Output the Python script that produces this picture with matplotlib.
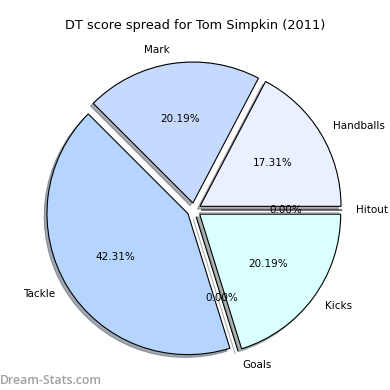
import matplotlib.pyplot as plt

labels = ['Handballs', 'Mark', 'Tackle', 'Goals', 'Kicks', 'Hitout']
points = [18, 21, 44, 0, 21, 0]
colors = ['#eaf0ff', '#c6d9ff', '#b5d5ff', '#c4ffff', '#d9ffff', '#e0e8ff']
explode = [0.05] * len(labels)


def save_pie():
    fig = plt.figure(figsize=(3.9, 3.9), dpi=100)
    ax = fig.add_axes([0, 0, 1, 1])

    ax.pie(points, labels=labels, colors=colors, explode=explode,
           autopct='%1.2f%%', startangle=0,
           shadow=dict(ox=-0.014, oy=-0.014, shade=0.6),
           wedgeprops=dict(edgecolor='black', linewidth=0.8),
           textprops=dict(fontsize=7.5))

    # 1 data unit ~ 141 px, pie centre at (194, 210) px
    ax.set_aspect('equal')
    ax.set_xlim(-194 / 141, (390 - 194) / 141)
    ax.set_ylim(-(390 - 210) / 141, 210 / 141)
    ax.axis('off')

    fig.text(0.5, 1 - 25 / 390, 'DT score spread for Tom Simpkin (2011)',
             ha='center', va='center', fontsize=9.3)
    fig.text(0.0, 1 - 381 / 390, 'Dream-Stats.com', ha='left', va='center',
             fontsize=8.8, fontfamily='Open Sans', fontweight='semibold',
             color='#a0a0a0')

    fig.savefig('out.png', dpi=100)
    plt.close(fig)


if __name__ == '__main__':
    save_pie()
